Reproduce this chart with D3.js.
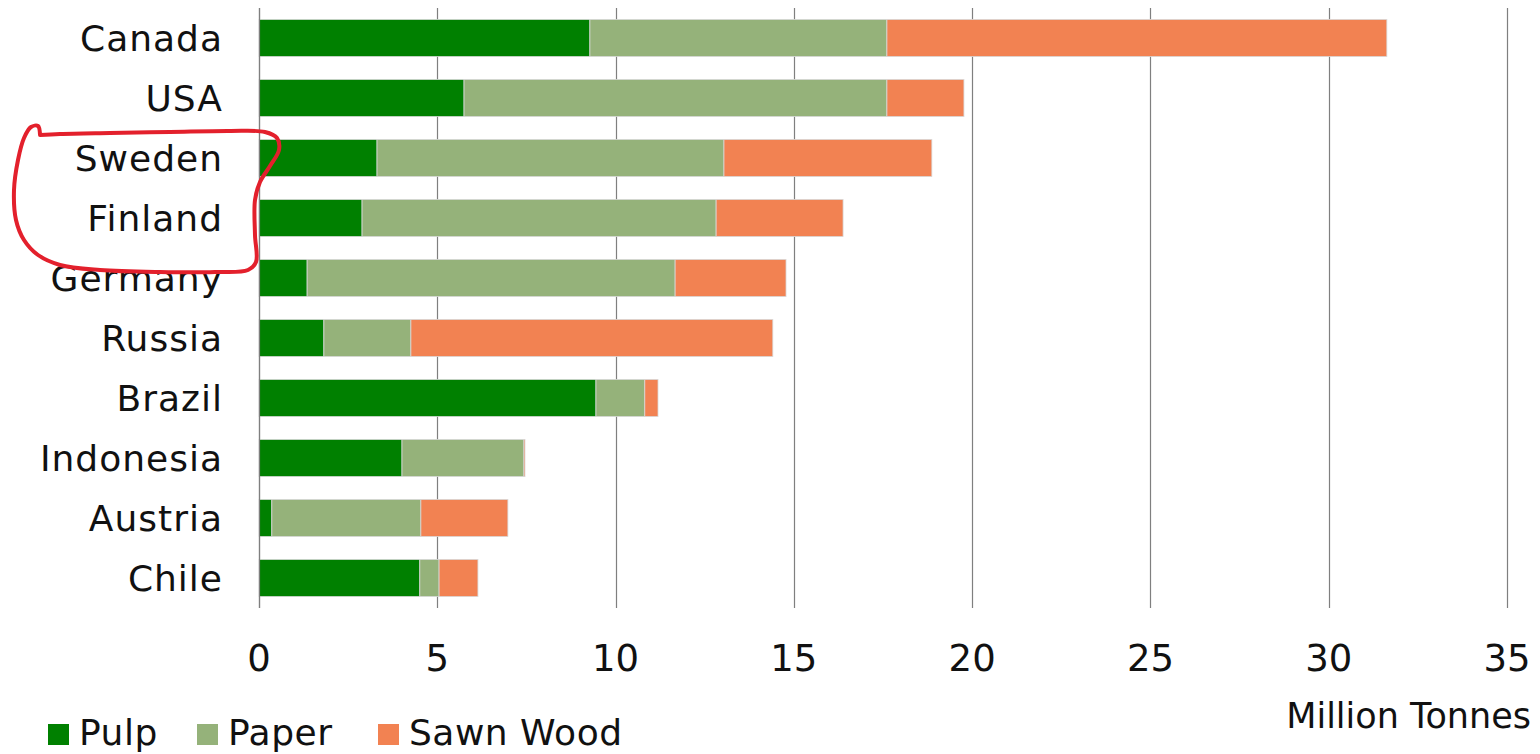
<!DOCTYPE html>
<html>
<head>
<meta charset="utf-8">
<script src="https://cdn.jsdelivr.net/npm/d3@7"></script>
<style>
  html, body { margin: 0; padding: 0; background: #fff; }
  svg { display: block; font-family: "DejaVu Sans", sans-serif; }
</style>
</head>
<body>
<svg id="chart" width="1540" height="754"></svg>
<script>
// Wood product output by country (million tonnes)
const countries = ["Canada", "USA", "Sweden", "Finland", "Germany", "Russia", "Brazil", "Indonesia", "Austria", "Chile"];
const pulp      = [9.28, 5.75, 3.31, 2.89, 1.35, 1.82, 9.45, 4.01, 0.36, 4.51];
const paper     = [8.33, 11.86, 9.73, 9.93, 10.32, 2.44, 1.37, 3.42, 4.18, 0.54];
const sawnWood  = [14.02, 2.16, 5.83, 3.56, 3.11, 10.15, 0.37, 0.03, 2.44, 1.09];
const seriesNames = ["Pulp", "Paper", "Sawn Wood"];
const seriesColors = ["#008000", "#95b27a", "#f28252"];
const xTicks = [0, 5, 10, 15, 20, 25, 30, 35];
const unitLabel = "Million Tonnes";

// Hand-drawn highlight loop around the Nordic labels
const highlightLoop = [
  [40,135],[38,126],[31,127],[24,138],[18,160],[14,190],[16,220],[24,240],[38,255],
  [60,265],[100,270],[160,272],[215,272],[248,270],[256,262],[255,235],[255,200],
  [260,182],[270,166],[279,150],[277,138],[265,132],[230,131],[170,132],[110,133],[60,134],[40,135]
];

const rows = countries.map((c, i) => ({ country: c, Pulp: pulp[i], Paper: paper[i], "Sawn Wood": sawnWood[i] }));
const stacked = d3.stack().keys(seriesNames)(rows);

const svg = d3.select("#chart");
const plotLeft = 259, plotRight = 1507, plotTop = 8, plotBottom = 608;

const x = d3.scaleLinear().domain([0, 35]).range([plotLeft, plotRight]);
const y = d3.scaleBand().domain(countries).range([plotTop, plotBottom]).paddingInner(0.38).paddingOuter(0.19);

// vertical gridlines with the axis ticks hanging below
svg.append("g")
  .selectAll("line")
  .data(xTicks)
  .join("line")
  .attr("x1", d => Math.round(x(d)) + 0.5)
  .attr("x2", d => Math.round(x(d)) + 0.5)
  .attr("y1", plotTop)
  .attr("y2", plotBottom)
  .attr("stroke", "#7f7f7f")
  .attr("stroke-width", 1.2);

// stacked bars
svg.append("g")
  .selectAll("g")
  .data(stacked)
  .join("g")
  .attr("fill", (d, i) => seriesColors[i])
  .selectAll("rect")
  .data(d => d)
  .join("rect")
  .attr("x", d => x(d[0]))
  .attr("y", d => y(d.data.country))
  .attr("width", d => Math.max(0, x(d[1]) - x(d[0])))
  .attr("height", y.bandwidth())
  .attr("stroke", "#d9d9d9")
  .attr("stroke-width", 0.8);

// category axis line
svg.append("line")
  .attr("x1", plotLeft + 0.5).attr("x2", plotLeft + 0.5)
  .attr("y1", plotTop).attr("y2", plotBottom)
  .attr("stroke", "#7f7f7f").attr("stroke-width", 1.2);

// category labels
svg.append("g")
  .selectAll("text")
  .data(countries)
  .join("text")
  .attr("x", 223)
  .attr("y", d => y(d) + y.bandwidth() / 2 + 13)
  .attr("text-anchor", "end")
  .attr("font-size", 36)
  .attr("letter-spacing", 1)
  .attr("fill", "#111")
  .text(d => d);

// value tick labels
svg.append("g")
  .selectAll("text")
  .data(xTicks)
  .join("text")
  .attr("x", d => x(d))
  .attr("y", 671)
  .attr("text-anchor", "middle")
  .attr("font-size", 37)
  .attr("fill", "#111")
  .text(d => d);

// unit label
svg.append("text")
  .attr("x", 1531).attr("y", 728)
  .attr("text-anchor", "end")
  .attr("font-size", 35)
  .attr("fill", "#111")
  .text(unitLabel);

// legend
const legendX = [48, 197, 378];
const legend = svg.append("g")
  .selectAll("g")
  .data(seriesNames)
  .join("g")
  .attr("transform", (d, i) => `translate(${legendX[i]},0)`);
legend.append("rect")
  .attr("x", 0).attr("y", 724)
  .attr("width", 21).attr("height", 21)
  .attr("fill", (d, i) => seriesColors[i]);
legend.append("text")
  .attr("x", 31).attr("y", 745)
  .attr("font-size", 36)
  .attr("letter-spacing", 0.5)
  .attr("fill", "#111")
  .text(d => d);

// highlight loop
svg.append("path")
  .attr("d", d3.line().curve(d3.curveCatmullRom.alpha(0.5))(highlightLoop))
  .attr("fill", "none")
  .attr("stroke", "#e3202c")
  .attr("stroke-width", 4)
  .attr("stroke-linecap", "round")
  .attr("stroke-linejoin", "round");
</script>
</body>
</html>
